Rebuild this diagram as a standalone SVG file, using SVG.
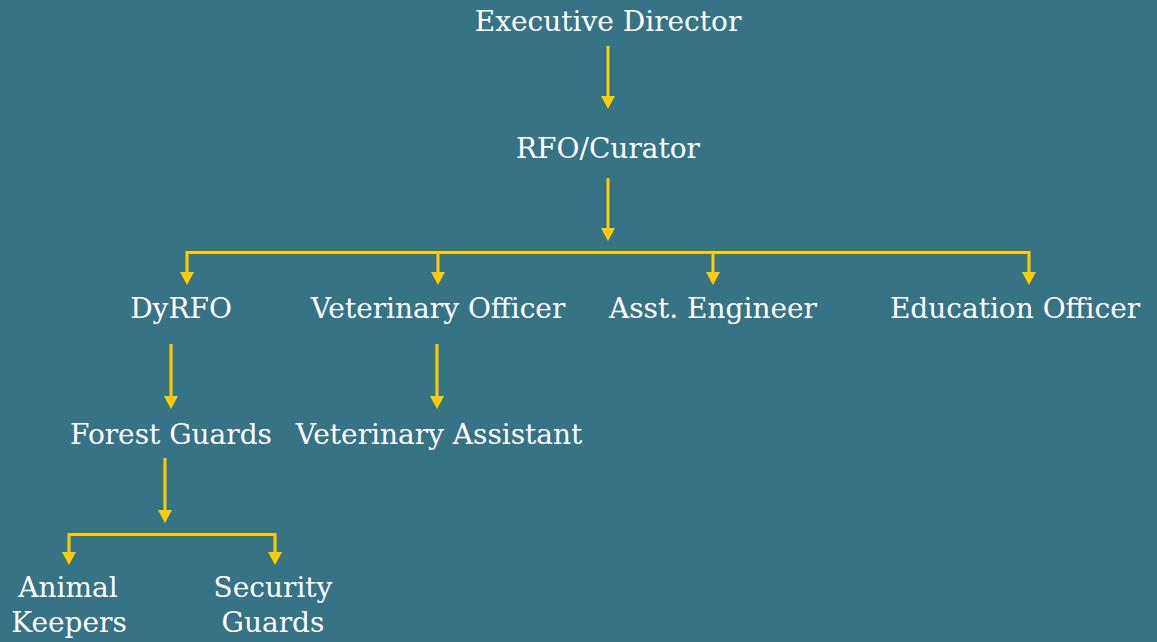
<svg xmlns="http://www.w3.org/2000/svg" width="1157" height="642" viewBox="0 0 1157 642">
<defs>
<style>
.t{font-family:"DejaVu Serif","Liberation Serif",serif;font-size:28px;fill:#ffffff;text-anchor:middle}
.c{stroke:#ffcc00;stroke-width:3;fill:none}
.a{stroke:#ffcc00;stroke-width:3;fill:none;marker-end:url(#ah)}
</style>
<marker id="ah" viewBox="0 0 14 13" refX="7" refY="13" markerWidth="14" markerHeight="13" markerUnits="userSpaceOnUse" orient="auto">
<path d="M0,0 L14,0 L7,13 Z" fill="#ffcc00" transform="translate(14,0) rotate(90) translate(0,0)"/>
</marker>
</defs>
<rect width="1157" height="642" fill="#367385"/>
<g id="connectors" fill="#ffcc00">
<line class="c" x1="608" y1="46" x2="608" y2="98"/>
<path d="M601,96 L615,96 L608,109 Z"/>
<line class="c" x1="608" y1="178" x2="608" y2="230"/>
<path d="M601,228 L615,228 L608,241 Z"/>
<path class="c" d="M187,282 V252.5 H1029 V282"/>
<line class="c" x1="438" y1="252" x2="438" y2="275"/>
<line class="c" x1="713" y1="252" x2="713" y2="275"/>
<path d="M180,272 L194,272 L187,285 Z"/>
<path d="M431,272 L445,272 L438,285 Z"/>
<path d="M706,272 L720,272 L713,285 Z"/>
<path d="M1022,272 L1036,272 L1029,285 Z"/>
<line class="c" x1="171" y1="344" x2="171" y2="398"/>
<path d="M164,396 L178,396 L171,409 Z"/>
<line class="c" x1="437" y1="344" x2="437" y2="398"/>
<path d="M430,396 L444,396 L437,409 Z"/>
<line class="c" x1="165" y1="458" x2="165" y2="512"/>
<path d="M158,510 L172,510 L165,523 Z"/>
<path class="c" d="M69,562 V534.5 H275 V562"/>
<path d="M62,552 L76,552 L69,565 Z"/>
<path d="M268,552 L282,552 L275,565 Z"/>
</g>
<g id="n1"><text class="t" x="608" y="31">Executive Director</text></g>
<g id="n2"><text class="t" x="608" y="158">RFO/Curator</text></g>
<g id="n3"><text class="t" x="181" y="318">DyRFO</text></g>
<g id="n4"><text class="t" x="438" y="318">Veterinary Officer</text></g>
<g id="n5"><text class="t" x="713" y="318">Asst. Engineer</text></g>
<g id="n6"><text class="t" x="1015" y="318">Education Officer</text></g>
<g id="n7"><text class="t" x="171" y="444">Forest Guards</text></g>
<g id="n8"><text class="t" x="439" y="444">Veterinary Assistant</text></g>
<g id="n9"><text class="t" x="68" y="597">Animal</text><text class="t" x="69" y="632">Keepers</text></g>
<g id="n10"><text class="t" x="273" y="597">Security</text><text class="t" x="273" y="632">Guards</text></g>
</svg>
